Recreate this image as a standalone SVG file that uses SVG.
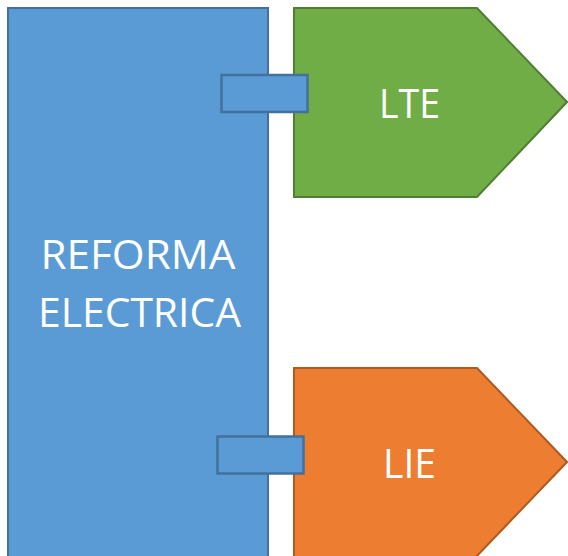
<svg xmlns="http://www.w3.org/2000/svg" width="568" height="556" viewBox="0 0 568 556">
<style>
.lbl{font-family:"Open Sans","Liberation Sans",sans-serif;fill:#FFFFFF;text-anchor:middle;font-size:41px}
.blue{fill:#5B9BD5;stroke:#41719C;stroke-width:2}
.green{fill:#70AD47;stroke:#507E32;stroke-width:2}
.orange{fill:#ED7D31;stroke:#AE5A21;stroke-width:2}
.conn{fill:#5B9BD5;stroke:#41719C;stroke-width:2.5}
</style>
<rect width="568" height="556" fill="#FFFFFF"/>
<g id="reforma">
<rect class="blue" x="8" y="8" width="260" height="560"/>
<text class="lbl" x="138" y="269" textLength="195" lengthAdjust="spacingAndGlyphs">REFORMA</text>
<text class="lbl" x="139.5" y="327" textLength="203" lengthAdjust="spacingAndGlyphs">ELECTRICA</text>
</g>
<g id="lte">
<polygon class="green" points="294,8 477,8 567,102 477,197 294,197"/>
<text class="lbl" x="409.5" y="118" textLength="61" lengthAdjust="spacingAndGlyphs">LTE</text>
</g>
<g id="lie">
<polygon class="orange" points="294,368 477,368 567,462 474,559 294,559"/>
<text class="lbl" x="409.5" y="478" textLength="53" lengthAdjust="spacingAndGlyphs">LIE</text>
</g>
<g id="connectors">
<rect class="conn" x="221.5" y="75" width="86" height="37"/>
<rect class="conn" x="217.5" y="436.5" width="86" height="37"/>
</g>
</svg>
